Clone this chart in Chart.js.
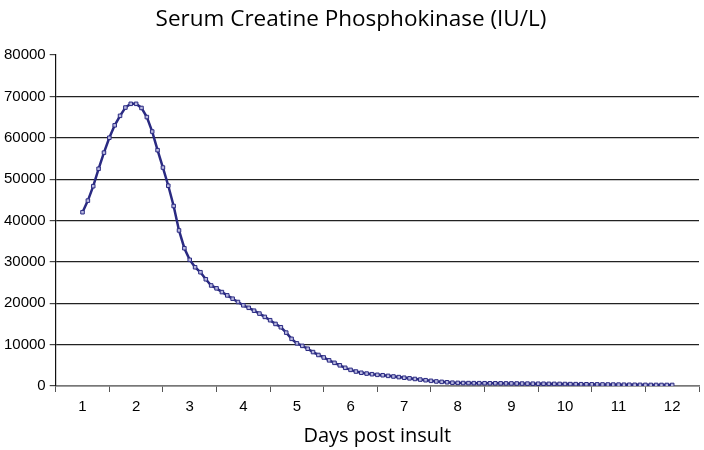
<!DOCTYPE html>
<html>
<head>
<meta charset="utf-8">
<script src="https://cdn.jsdelivr.net/npm/chart.js@4"></script>
<style>
  body { margin: 0; background: #fff; }
  #wrap { width: 704px; height: 450px; }
</style>
</head>
<body>
<div id="wrap"><canvas id="ckChart" width="704" height="450"></canvas></div>
<script>
// days after the insult where the curve was read
const days = [
  1.0, 1.1, 1.2, 1.3, 1.4, 1.5, 1.6, 1.7, 1.8, 1.9,
  2.0, 2.1, 2.2, 2.3, 2.4, 2.5, 2.6, 2.7, 2.8, 2.9,
  3.0, 3.1, 3.2, 3.3, 3.4, 3.5, 3.6, 3.7, 3.8, 3.9,
  4.0, 4.1, 4.2, 4.3, 4.4, 4.5, 4.6, 4.7, 4.8, 4.9,
  5.0, 5.1, 5.2, 5.3, 5.4, 5.5, 5.6, 5.7, 5.8, 5.9,
  6.0, 6.1, 6.2, 6.3, 6.4, 6.5, 6.6, 6.7, 6.8, 6.9,
  7.0, 7.1, 7.2, 7.3, 7.4, 7.5, 7.6, 7.7, 7.8, 7.9,
  8.0, 8.1, 8.2, 8.3, 8.4, 8.5, 8.6, 8.7, 8.8, 8.9,
  9.0, 9.1, 9.2, 9.3, 9.4, 9.5, 9.6, 9.7, 9.8, 9.9,
  10.0, 10.1, 10.2, 10.3, 10.4, 10.5, 10.6, 10.7, 10.8, 10.9,
  11.0, 11.1, 11.2, 11.3, 11.4, 11.5, 11.6, 11.7, 11.8, 11.9,
  12.0
];

// serum CPK (IU/L)
const cpk = [
  42000, 44800, 48300, 52500, 56400, 60000, 63000, 65300, 67300, 68200,
  68200, 67200, 65000, 61500, 57000, 52800, 48400, 43500, 37600, 33300,
  30500, 28700, 27500, 25800, 24300, 23600, 22700, 21900, 21100, 20300,
  19500, 18900, 18200, 17500, 16700, 15900, 15000, 14200, 12900, 11400,
  10300, 9700, 9000, 8200, 7500, 6900, 6200, 5600, 5000, 4400,
  3900, 3500, 3200, 3000, 2850, 2700, 2600, 2450, 2300, 2150,
  2000, 1850, 1700, 1550, 1400, 1250, 1100, 1000, 900, 800,
  750, 720, 700, 690, 680, 670, 660, 650, 640, 630,
  620, 600, 590, 570, 560, 550, 540, 520, 510, 500,
  480, 460, 450, 430, 420, 400, 390, 370, 360, 340,
  330, 310, 300, 290, 280, 270, 260, 260, 250, 250,
  250
];

const dayLabels = ['1', '2', '3', '4', '5', '6', '7', '8', '9', '10', '11', '12'];
const yTicks = [0, 10000, 20000, 30000, 40000, 50000, 60000, 70000, 80000];

const points = days.map((d, i) => ({ x: d, y: cpk[i] }));

new Chart(document.getElementById('ckChart'), {
  type: 'line',
  data: {
    datasets: [{
      label: 'CPK',
      data: points,
      xAxisID: 'x',
      yAxisID: 'y',
      borderColor: '#2a2a82',
      borderWidth: 2.5,
      pointStyle: 'rect',
      pointRadius: 2.5,
      pointBorderWidth: 1,
      pointBorderColor: '#2a2a82',
      pointBackgroundColor: '#b9b9e0',
      tension: 0
    }]
  },
  options: {
    responsive: false,
    animation: false,
    layout: { padding: { left: 0, right: 2, top: 6, bottom: 2 } },
    plugins: {
      legend: { display: false },
      tooltip: { enabled: false },
      title: {
        display: true,
        text: 'Serum Creatine Phosphokinase (IU/L)',
        color: '#000',
        font: { family: 'Open Sans', size: 22.5, weight: 'normal' },
        padding: { top: 0, bottom: 22 }
      }
    },
    scales: {
      x: {
        type: 'linear',
        display: false,
        min: 0.5,
        max: 12.5
      },
      xc: {
        type: 'category',
        position: 'bottom',
        labels: dayLabels,
        offset: true,
        grid: {
          offset: true,
          drawOnChartArea: false,
          tickLength: 6,
          color: '#555'
        },
        border: { color: '#777', width: 1.5 },
        ticks: {
          color: '#000',
          padding: 6,
          font: { family: 'Liberation Sans', size: 15 }
        },
        title: {
          display: true,
          text: 'Days post insult',
          color: '#000',
          font: { family: 'Open Sans', size: 20 },
          padding: { top: 2, bottom: 0 }
        }
      },
      y: {
        min: 0,
        max: 80000,
        afterBuildTicks: axis => { axis.ticks = yTicks.map(v => ({ value: v })); },
        grid: {
          color: ctx => (ctx.tick && ctx.tick.value === 80000) ? 'rgba(0,0,0,0)' : '#222',
          tickColor: '#444',
          tickLength: 6,
          lineWidth: 1.2
        },
        border: { color: '#111', width: 1.2 },
        ticks: {
          color: '#000',
          padding: 4,
          font: { family: 'Liberation Sans', size: 15 },
          callback: v => String(v)
        }
      }
    }
  }
});
</script>
</body>
</html>
